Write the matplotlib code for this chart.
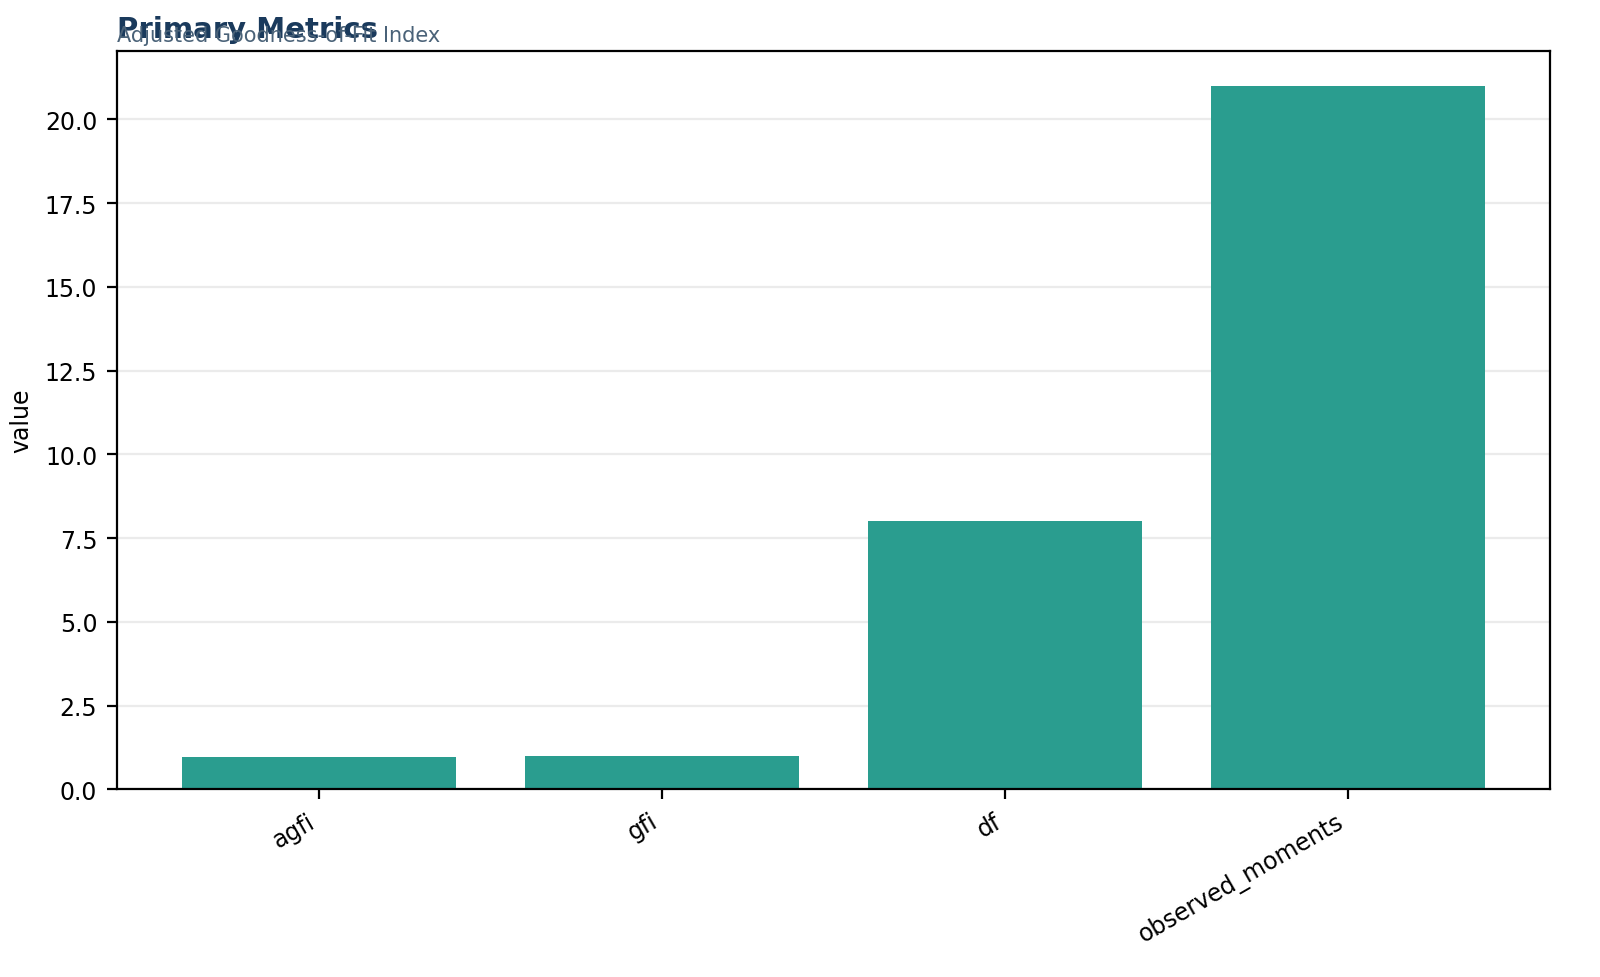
import matplotlib
matplotlib.use("Agg")
import matplotlib.pyplot as plt

categories = ["agfi", "gfi", "df", "observed_moments"]
values = [0.97, 0.99, 8, 21]

fig = plt.figure(figsize=(8, 4.89), dpi=200)
ax = fig.add_axes([0.073, 0.192, 0.896, 0.755])
ax.bar(categories, values, color="#2a9d8f", width=0.8, zorder=2)
ax.set_ylabel("value", fontsize=8.5)
ax.yaxis.grid(True, color="#ebebeb", linewidth=0.8, zorder=0)
ax.set_axisbelow(True)
ax.tick_params(labelsize=8.5)
plt.setp(ax.get_xticklabels(), rotation=30, ha="right")
ax.text(0, 1.01, "Primary Metrics", transform=ax.transAxes, fontsize=10.5,
        fontweight="bold", color="#1a3a5c", va="bottom")
ax.text(0, 1.008, "Adjusted Goodness-of-Fit Index", transform=ax.transAxes,
        fontsize=7.5, color="#4a6278", va="bottom")
fig.savefig("out.png", dpi=200)
